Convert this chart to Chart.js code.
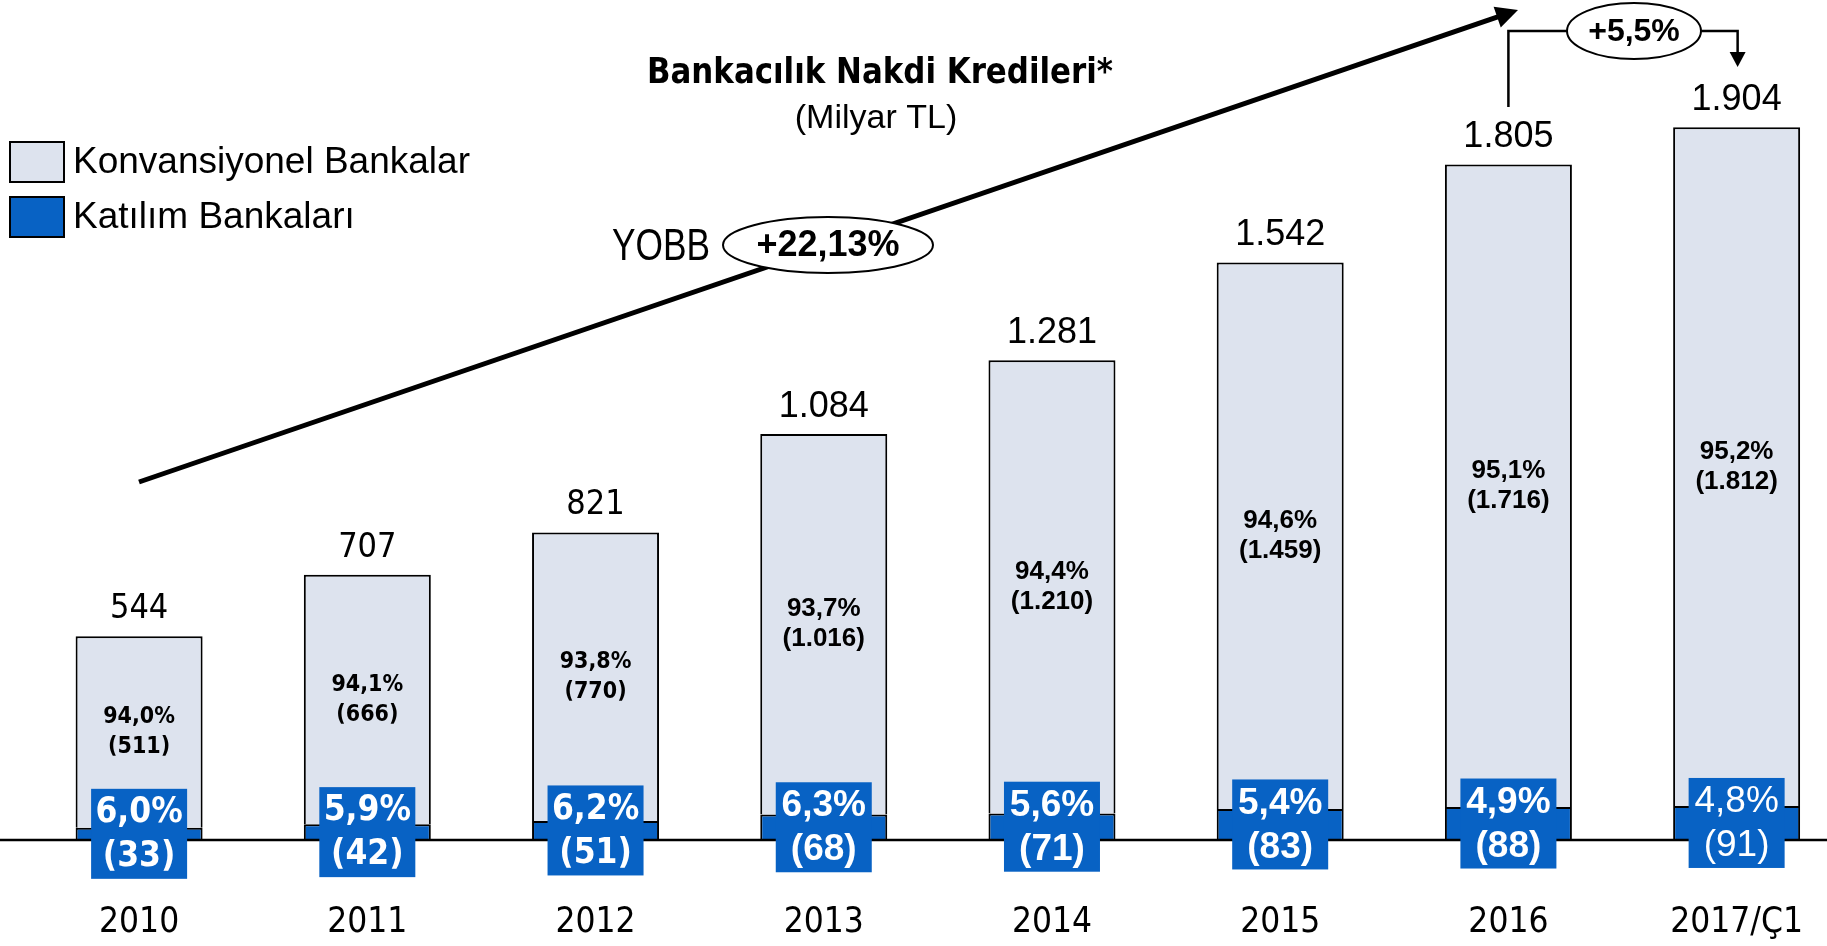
<!DOCTYPE html>
<html>
<head>
<meta charset="utf-8">
<script src="https://cdn.jsdelivr.net/npm/chart.js@4.4.1/dist/chart.umd.min.js"></script>
<style>
  html, body { margin: 0; padding: 0; background: #fff; overflow: hidden; }
  #wrap { width: 1827px; height: 946px; overflow: hidden; }
  canvas { display: block; }
</style>
</head>
<body>
<div id="wrap"><canvas id="krediChart" width="1865" height="946"></canvas></div>
<script>
// Bankacılık nakdi kredileri (milyar TL)
const years = ["2010", "2011", "2012", "2013", "2014", "2015", "2016", "2017/Ç1"];
const konvansiyonel = [511, 666, 770, 1016, 1210, 1459, 1716, 1812];
const katilim = [33, 42, 51, 68, 71, 83, 88, 91];
const toplam = [544, 707, 821, 1084, 1281, 1542, 1805, 1904];
const konvPay = [94.0, 94.1, 93.8, 93.7, 94.4, 94.6, 95.1, 95.2];
const katPay = [6.0, 5.9, 6.2, 6.3, 5.6, 5.4, 4.9, 4.8];

const LIGHT = "#DDE3EE";
const BLUE = "#0862C4";
const TAHOMA = "'DejaVu Sans Condensed', 'DejaVu Sans', sans-serif";
const ARIAL = "'Liberation Sans', Arial, sans-serif";

// first three years use the older (Tahoma-like) font in the source slide
const oldFont = (i) => i < 3;

const fmtNum = (v) => String(v).replace(/\B(?=(\d{3})+(?!\d))/g, ".");
const fmtPct = (v) => v.toFixed(1).replace(".", ",") + "%";

function text(ctx, str, x, y, font, color, maxW) {
  ctx.font = font;
  ctx.fillStyle = color;
  ctx.textAlign = "center";
  ctx.textBaseline = "middle";
  if (maxW) ctx.fillText(str, x, y, maxW);
  else ctx.fillText(str, x, y);
}

function arrowHead(ctx, x, y, angle, len, half) {
  ctx.beginPath();
  ctx.moveTo(x, y);
  ctx.lineTo(x - len * Math.cos(angle) + half * Math.sin(angle), y - len * Math.sin(angle) - half * Math.cos(angle));
  ctx.lineTo(x - len * Math.cos(angle) - half * Math.sin(angle), y - len * Math.sin(angle) + half * Math.cos(angle));
  ctx.closePath();
  ctx.fill();
}

function ellipseLabel(ctx, cx, cy, rx, ry, str, font) {
  ctx.beginPath();
  ctx.ellipse(cx, cy, rx, ry, 0, 0, Math.PI * 2);
  ctx.fillStyle = "#fff";
  ctx.fill();
  ctx.lineWidth = 2;
  ctx.strokeStyle = "#000";
  ctx.stroke();
  text(ctx, str, cx, cy + 1, font, "#000");
}

const overlay = {
  id: "overlay",
  afterDatasetsDraw(chart) {
    const { ctx } = chart;
    const katBars = chart.getDatasetMeta(0).data;
    const konvBars = chart.getDatasetMeta(1).data;
    const base = chart.scales.y.getPixelForValue(0);

    ctx.save();

    // baseline across the whole slide
    ctx.strokeStyle = "#000";
    ctx.lineWidth = 2.5;
    ctx.beginPath();
    ctx.moveTo(0, base);
    ctx.lineTo(chart.width, base);
    ctx.stroke();

    years.forEach((_, i) => {
      const kb = konvBars[i];
      const ab = katBars[i];
      const old = oldFont(i);
      const fam = old ? TAHOMA : ARIAL;

      // conventional share inside the light bar
      const midK = (kb.y + kb.base) / 2;
      const inner = old ? "bold 23px " + fam : "bold 26px " + fam;
      text(ctx, fmtPct(konvPay[i]), kb.x, midK - 15, inner, "#000");
      text(ctx, "(" + fmtNum(konvansiyonel[i]) + ")", kb.x, midK + 15, inner, "#000");

      // participation share in a blue box
      const midA = (ab.y + ab.base) / 2;
      ctx.fillStyle = BLUE;
      ctx.fillRect(ab.x - 48, midA - 45, 96, 90);
      const w = i === years.length - 1 ? "" : "bold ";
      const sz = old ? "35px " : "37px ";
      text(ctx, fmtPct(katPay[i]), ab.x, midA - 21, w + sz + fam, "#fff");
      text(ctx, "(" + katilim[i] + ")", ab.x, midA + 23, w + sz + fam, "#fff");

      // total on top
      text(ctx, fmtNum(toplam[i]), kb.x, kb.y - 27, (old ? "34px " : "36px ") + fam, "#000");
    });

    // CAGR trend arrow
    ctx.strokeStyle = "#000";
    ctx.fillStyle = "#000";
    ctx.lineWidth = 5;
    const x0 = 139, y0 = 482, x1 = 1518, y1 = 10;
    const ang = Math.atan2(y1 - y0, x1 - x0);
    ctx.beginPath();
    ctx.moveTo(x0, y0);
    ctx.lineTo(x1 - 16 * Math.cos(ang), y1 - 16 * Math.sin(ang));
    ctx.stroke();
    arrowHead(ctx, x1, y1, ang, 22, 11);

    text(ctx, "YOBB", 661, 248, "44px 'Liberation Sans Narrow', " + ARIAL, "#000", 98);
    ellipseLabel(ctx, 828, 245, 105, 28, "+22,13%", "bold 36px " + ARIAL);

    // quarter change bracket 2016 -> 2017/Ç1
    const xa = konvBars[6].x, xb = konvBars[7].x + 1;
    const topY = 31;
    ctx.lineWidth = 2.5;
    ctx.beginPath();
    ctx.moveTo(xa, 107);
    ctx.lineTo(xa, topY);
    ctx.lineTo(1568, topY);
    ctx.moveTo(1700, topY);
    ctx.lineTo(xb, topY);
    ctx.lineTo(xb, 54);
    ctx.stroke();
    ctx.beginPath();
    ctx.moveTo(xb - 8, 52);
    ctx.lineTo(xb + 8, 52);
    ctx.lineTo(xb, 67);
    ctx.closePath();
    ctx.fill();
    ellipseLabel(ctx, 1634, 31, 67, 28, "+5,5%", "bold 32px " + ARIAL);

    // title
    text(ctx, "Bankacılık Nakdi Kredileri*", 880, 74, "bold 35px " + TAHOMA, "#000", 466);
    text(ctx, "(Milyar TL)", 876, 119, "34px " + ARIAL, "#000");

    // legend (conventional first)
    const ds = chart.data.datasets.slice().reverse();
    ds.forEach((d, k) => {
      const y = 142 + k * 55;
      ctx.fillStyle = d.backgroundColor;
      ctx.fillRect(10, y, 54, 40);
      ctx.lineWidth = 2;
      ctx.strokeStyle = "#000";
      ctx.strokeRect(10, y, 54, 40);
      ctx.font = "37px " + ARIAL;
      ctx.fillStyle = "#000";
      ctx.textAlign = "left";
      ctx.textBaseline = "middle";
      ctx.fillText(d.label, 73, y + 21);
    });

    ctx.restore();
  },
};

new Chart(document.getElementById("krediChart"), {
  type: "bar",
  data: {
    labels: years,
    datasets: [
      {
        label: "Katılım Bankaları",
        data: katilim,
        backgroundColor: BLUE,
        borderColor: "#000",
        borderWidth: 2,
      },
      {
        label: "Konvansiyonel Bankalar",
        data: konvansiyonel,
        backgroundColor: LIGHT,
        borderColor: "#000",
        borderWidth: 2,
      },
    ],
  },
  options: {
    responsive: false,
    animation: false,
    devicePixelRatio: 1,
    barPercentage: 0.5565,
    categoryPercentage: 1,
    layout: { padding: { left: 25, right: 0, top: 0, bottom: 3 } },
    plugins: {
      legend: { display: false },
      title: { display: false },
      tooltip: { enabled: false },
    },
    scales: {
      x: {
        stacked: true,
        grid: { display: false, drawTicks: false },
        border: { display: false },
        ticks: {
          padding: 62,
          color: "#000",
          font: { family: TAHOMA, size: 35 },
          maxRotation: 0,
        },
        afterFit: (scale) => {
          scale.height = 103;
        },
      },
      y: {
        stacked: true,
        display: false,
        min: 0,
        max: 2243,
      },
    },
  },
  plugins: [overlay],
});
</script>
</body>
</html>
